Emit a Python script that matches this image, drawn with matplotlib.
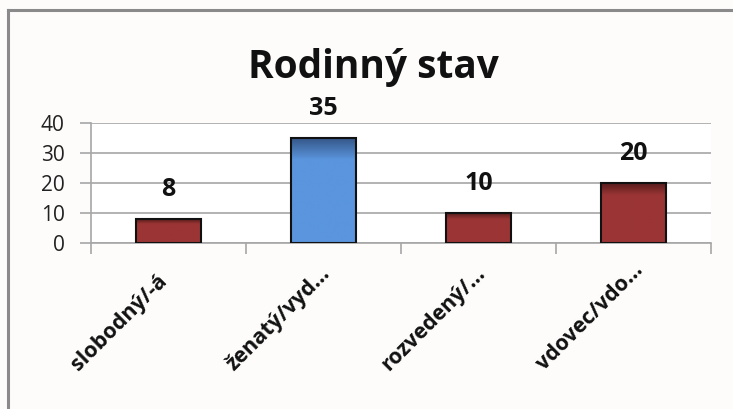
import matplotlib
matplotlib.use("Agg")
import matplotlib.pyplot as plt
import numpy as np
from matplotlib.transforms import ScaledTranslation
from matplotlib.colors import LinearSegmentedColormap

categories = ["slobodný/-á", "ženatý/vyd...", "rozvedený/...", "vdovec/vdo..."]
values = [8, 35, 10, 20]
title = "Rodinný stav"
yticks = [0, 10, 20, 30, 40]

FONT = ["Open Sans", "DejaVu Sans"]
BG = "#fdfcfb"

fig = plt.figure(figsize=(7.33, 4.09), dpi=100, facecolor=BG)
ax = fig.add_axes([91/733, 1-243/409, (711-91)/733, 120/409])
ax.set_facecolor("white")

x = np.arange(len(categories))
colors = ["#9b3535", "#5a95dd", "#9b3535", "#9b3535"]
tops = ["#5a1d1d", "#36588a", "#5a1d1d", "#5a1d1d"]
bars = ax.bar(x, values, width=0.42, color=colors, edgecolor="#111111", linewidth=1.5, zorder=3)

for b, c, t in zip(bars, colors, tops):
    cmap = LinearSegmentedColormap.from_list("g", [(0, c), (0.8, c), (1, t)])
    xx, yy = b.get_x(), b.get_y()
    w, h = b.get_width(), b.get_height()
    grad = np.linspace(0, 1, 100).reshape(-1, 1)
    im = ax.imshow(grad, cmap=cmap, aspect="auto", origin="lower",
                   extent=[xx, xx + w, yy, yy + h], zorder=3.5)
    im.set_clip_path(b)
    b.set_facecolor("none")
    b.set_zorder(4)

ax.set_xlim(-0.5, len(categories) - 0.5)
ax.set_ylim(0, 40)
ax.set_yticks(yticks)
ax.yaxis.grid(True, color="#a6a6a6", linewidth=1.2, zorder=0)
ax.set_axisbelow(True)
for s in ["top", "right"]:
    ax.spines[s].set_visible(False)
for s in ["left", "bottom"]:
    ax.spines[s].set_color("#a6a6a6")
    ax.spines[s].set_linewidth(1.2)

ax.tick_params(axis="y", length=8, color="#a6a6a6", labelsize=15, pad=11, width=1.2)
for lbl in ax.get_yticklabels():
    lbl.set_family(FONT)
    lbl.set_color("#222222")

ax.set_xticks(np.arange(-0.5, len(categories)))
ax.set_xticklabels([])
ax.tick_params(axis="x", length=8, color="#a6a6a6", width=1.2)

off = ScaledTranslation(-90/100, -128/100, fig.dpi_scale_trans)
for xi, cat in zip(x, categories):
    ax.text(xi, 0, cat, rotation=45, ha="left", va="baseline", rotation_mode="anchor",
            fontsize=15.5, fontweight="bold", family=FONT, color="#111111",
            transform=ax.get_xaxis_transform() + off)

for xi, v in zip(x, values):
    ax.annotate(str(v), (xi, v), xytext=(0, 12), textcoords="offset points",
                ha="center", va="bottom", fontsize=18, fontweight="bold",
                family=FONT, color="#111111")

fig.text(373/733, 1-78/409, title, ha="center", va="baseline", fontsize=28,
         fontweight="bold", family=FONT, color="#111111")

fig.add_artist(plt.Line2D([8/733, 1.0], [1-10/409]*2, color="#8a8a8a", linewidth=2.2, transform=fig.transFigure))
fig.add_artist(plt.Line2D([8/733]*2, [0, 1-10/409], color="#8a8a8a", linewidth=2.2, transform=fig.transFigure))

fig.savefig("out.png", dpi=100, facecolor=BG)
